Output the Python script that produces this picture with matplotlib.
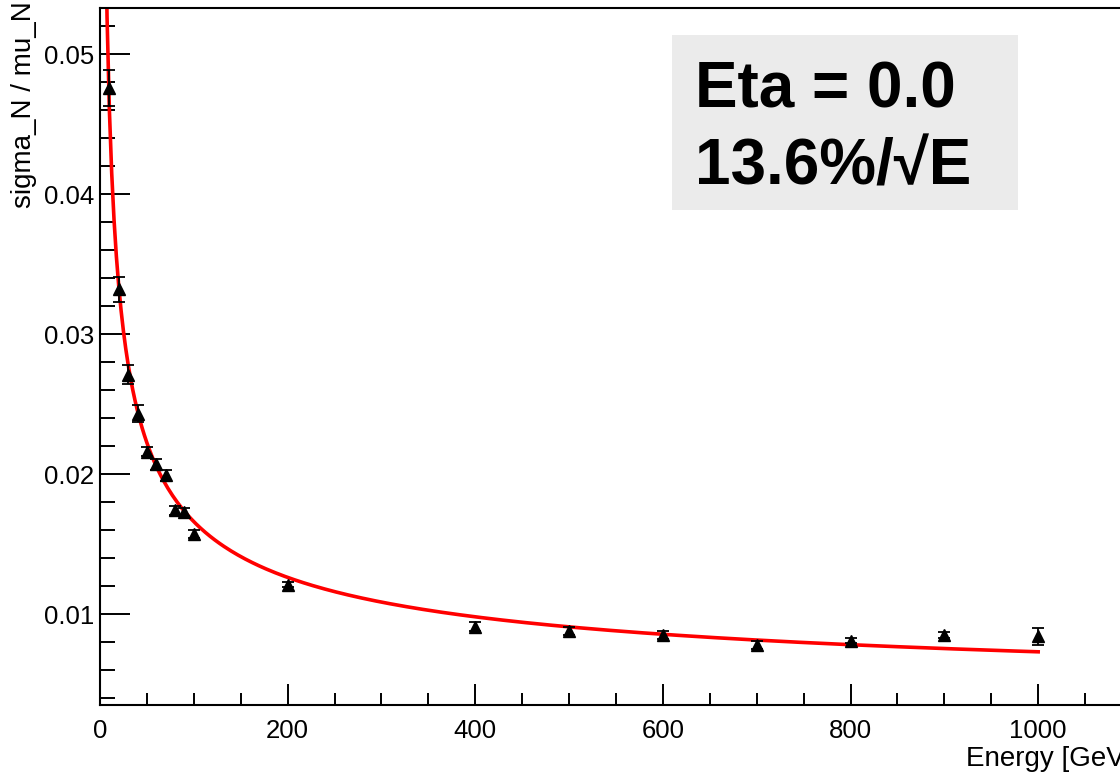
import numpy as np
import matplotlib
matplotlib.use('Agg')
import matplotlib.pyplot as plt
from matplotlib.ticker import MultipleLocator
from matplotlib.patches import Rectangle

plt.rcParams['font.family'] = ['Liberation Sans', 'DejaVu Sans']

# measured points
energy = [10, 20, 30, 40, 50, 60, 70, 80, 90, 100, 200, 400, 500, 600, 700, 800, 900, 1000]
resol = [0.0476, 0.0332, 0.0271, 0.0243, 0.0216, 0.0207, 0.0199, 0.0174, 0.0173, 0.0157,
         0.0121, 0.0091, 0.0088, 0.0085, 0.0078, 0.0081, 0.0085, 0.0084]
resol_err = [0.0013, 0.0009, 0.0007, 0.0006, 0.0003, 0.0004, 0.0004, 0.0003, 0.0003, 0.0003,
             0.0002, 0.0003, 0.0003, 0.0003, 0.0003, 0.0002, 0.0002, 0.0006]

# fit: a/sqrt(E) + b
fit_a = 0.136
fit_b = 0.003
fit_range = (5, 1000)

W, H = 1120, 775
fig = plt.figure(figsize=(W/100, H/100), dpi=100)
ax = fig.add_axes([100/W, 70/H, 1032/W, 697/H])

e = np.linspace(fit_range[0], fit_range[1], 400)
ax.plot(e, fit_a / np.sqrt(e) + fit_b, color='red', lw=2.6, zorder=2)
ax.errorbar(energy, resol, yerr=resol_err, fmt='^', color='black', ms=9,
            elinewidth=1.3, capsize=4.5, capthick=1.3, zorder=3)

ax.set_xlim(0, 1100)
ax.set_ylim(0.0035, 0.0533)

ax.xaxis.set_major_locator(MultipleLocator(200))
ax.xaxis.set_minor_locator(MultipleLocator(50))
ax.yaxis.set_major_locator(MultipleLocator(0.01))
ax.yaxis.set_minor_locator(MultipleLocator(0.002))
ax.yaxis.set_major_formatter(matplotlib.ticker.FuncFormatter(lambda v, p: '%g' % round(v, 3)))

ax.tick_params(axis='both', which='both', direction='in', width=1.4, labelsize=18.5, colors='black')
ax.tick_params(axis='x', which='major', length=15, pad=10)
ax.tick_params(axis='x', which='minor', length=8.5)
ax.tick_params(axis='y', which='major', length=21.5, pad=4)
ax.tick_params(axis='y', which='minor', length=11)
for s in ax.spines.values():
    s.set_linewidth(1.5)

ax.set_xlabel('Energy [GeV]', fontsize=20, loc='right', labelpad=2)
ax.set_ylabel('sigma_N / mu_N', fontsize=20, loc='top', labelpad=0)
ax.yaxis.set_label_coords(-63/1032, 1.01)

# grey text box
fig.add_artist(Rectangle((672/W, 1 - 210/H), 346/W, 175/H, transform=fig.transFigure,
                         fc='#ebebeb', ec='none'))
fig.text(695/W, 1 - 108/H, 'Eta = 0.0', fontsize=46, fontweight='bold', ha='left', va='baseline')
fig.text(695/W, 1 - 185/H, '13.6%/\u221aE', fontsize=46, fontweight='bold', ha='left', va='baseline')

fig.savefig('out.png', dpi=100)
